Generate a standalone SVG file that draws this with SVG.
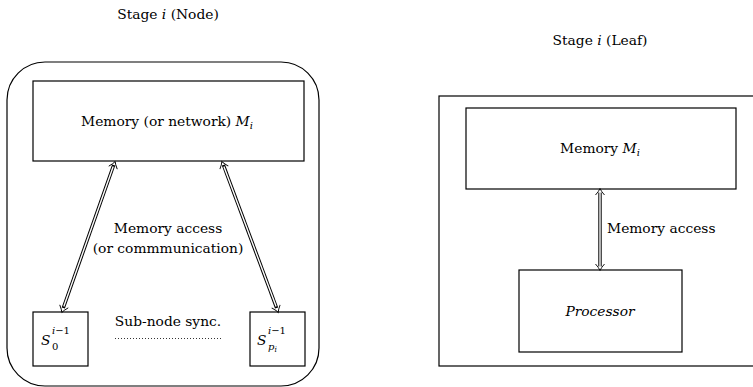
<svg xmlns="http://www.w3.org/2000/svg" width="753" height="387" viewBox="0 0 753 387">
<style>
  text { font-family: "DejaVu Serif", "Liberation Serif", serif; font-size: 13.8px; fill: #000; }
  .it { font-style: italic; }
  .sm { font-size: 10px; }
  .box { fill: none; stroke: #000; stroke-width: 1.2; }
  .dbl-o { fill: none; stroke: #000; stroke-width: 3.4; }
  .dbl-i { fill: none; stroke: #fff; stroke-width: 1.4; }
</style>
<defs>
  <marker id="hd" markerUnits="userSpaceOnUse" markerWidth="14" markerHeight="14" viewBox="-8 -7 10 14" refX="0" refY="0" orient="auto-start-reverse">
    <path d="M -6 -4.5 Q -2 -1 0.5 0 Q -2 1 -6 4.5" fill="none" stroke="#000" stroke-width="0.9"/>
  </marker>
</defs>
<rect width="753" height="387" fill="#fff"/>

<text x="168" y="19" text-anchor="middle">Stage <tspan class="it">i</tspan> (Node)</text>
<text x="600" y="45" text-anchor="middle">Stage <tspan class="it">i</tspan> (Leaf)</text>

<g id="node-outer"><rect class="box" x="7" y="62" width="312" height="324" rx="38" ry="38"/></g>
<g id="node-memory">
  <rect class="box" x="33" y="81" width="271" height="80"/>
  <text x="167" y="126" text-anchor="middle">Memory (or network) <tspan class="it">M</tspan><tspan class="it sm" dy="3">i</tspan></text>
</g>
<g id="node-s0">
  <rect class="box" x="33" y="312" width="55" height="54"/>
  <text x="41" y="345" class="it" font-size="16">S</text>
  <text x="52" y="334" class="it sm">i<tspan font-style="normal">−1</tspan></text>
  <text x="52" y="350" class="sm">0</text>
</g>
<g id="node-sp">
  <rect class="box" x="250" y="312" width="55" height="54"/>
  <text x="257" y="345" class="it" font-size="16">S</text>
  <text x="268" y="334" class="it sm">i<tspan font-style="normal">−1</tspan></text>
  <text x="268" y="350" class="it sm">p<tspan font-size="7.5" dy="2">i</tspan></text>
</g>

<g id="leaf-outer"><rect class="box" x="439" y="96" width="330" height="270"/></g>
<g id="leaf-memory">
  <rect class="box" x="466" y="108" width="270" height="81"/>
  <text x="600" y="153" text-anchor="middle">Memory <tspan class="it">M</tspan><tspan class="it sm" dy="3">i</tspan></text>
</g>
<g id="leaf-processor">
  <rect class="box" x="519" y="270" width="163" height="82"/>
  <text x="600" y="316" text-anchor="middle" class="it">Processor</text>
</g>

<g id="connectors">
  <line class="dbl-o" x1="63.3" y1="308" x2="113.7" y2="165"/>
  <line class="dbl-i" x1="63.8" y1="306.6" x2="113.2" y2="166.4"/>
  <path d="M 62 312 L 115 162" fill="none" stroke="none" marker-start="url(#hd)" marker-end="url(#hd)"/>

  <line class="dbl-o" x1="276.6" y1="308" x2="223.4" y2="165"/>
  <line class="dbl-i" x1="276.1" y1="306.6" x2="223.9" y2="166.4"/>
  <path d="M 278 312 L 222 162" fill="none" stroke="none" marker-start="url(#hd)" marker-end="url(#hd)"/>

  <line class="dbl-o" x1="600" y1="192.5" x2="600" y2="266.5"/>
  <line class="dbl-i" x1="600" y1="191" x2="600" y2="268"/>
  <path d="M 600 189 L 600 270" fill="none" stroke="none" marker-start="url(#hd)" marker-end="url(#hd)"/>

  <line x1="115" y1="338.5" x2="222" y2="338.5" stroke="#000" stroke-width="0.9" stroke-dasharray="0.9 2.1"/>

  <text x="168" y="233" text-anchor="middle">Memory access</text>
  <text x="168" y="253" text-anchor="middle">(or commmunication)</text>
  <text x="168" y="326" text-anchor="middle">Sub-node sync.</text>
  <text x="607" y="233">Memory access</text>
</g>
</svg>
